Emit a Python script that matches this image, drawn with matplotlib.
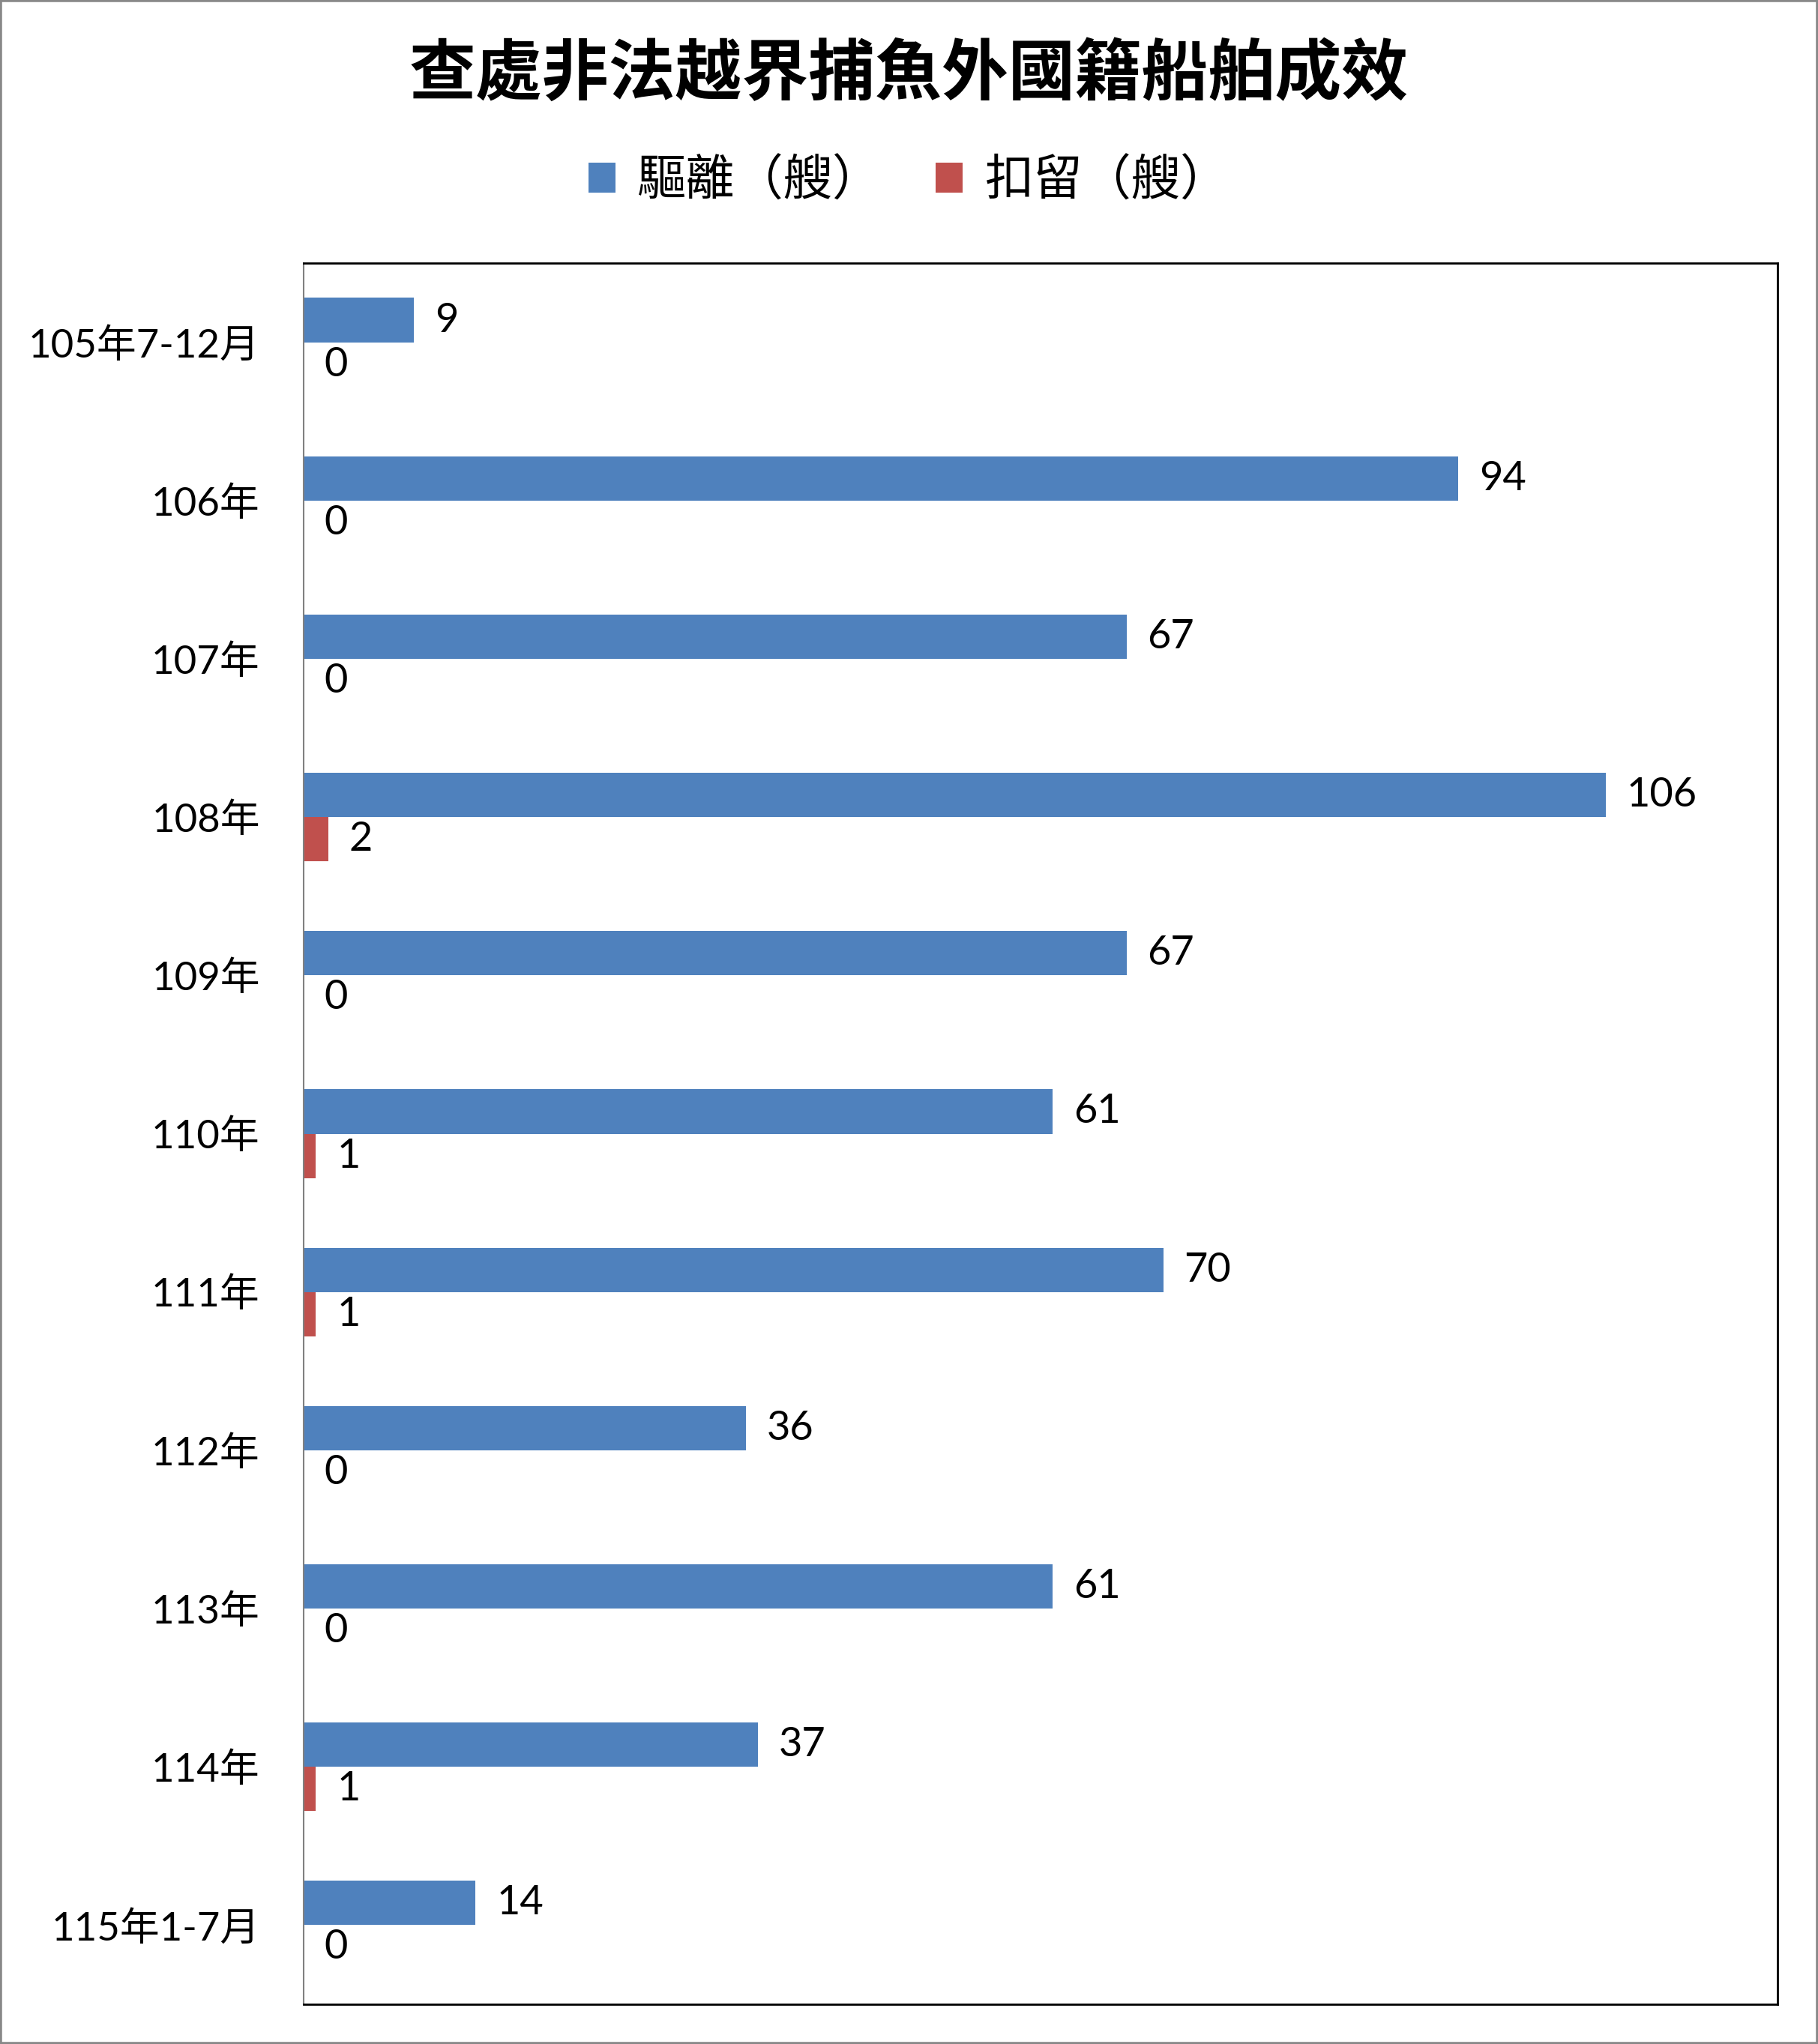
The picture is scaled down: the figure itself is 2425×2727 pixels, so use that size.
import numpy as np
import matplotlib.pyplot as plt
from matplotlib.patches import Rectangle

# data
periods = ['105年7-12月', '106年', '107年', '108年', '109年', '110年',
           '111年', '112年', '113年', '114年', '115年1-7月']
expelled = [9, 94, 67, 106, 67, 61, 70, 36, 61, 37, 14]
detained = [0, 0, 0, 2, 0, 1, 1, 0, 0, 1, 0]

blue = '#4F81BD'
red = '#C0504D'
fonts = ['Lato', 'Noto Sans CJK TC', 'DejaVu Sans']
plt.rcParams['font.family'] = fonts

fig = plt.figure(figsize=(24.25, 27.27), dpi=100)
ax = fig.add_axes([405 / 2425, 1 - 2674 / 2727, (2371 - 405) / 2425, (2674 - 351) / 2727])

y = np.arange(len(periods))
h = 0.28
b1 = ax.barh(y - h / 2, expelled, height=h, color=blue, label='驅離（艘）')
b2 = ax.barh(y + h / 2, detained, height=h, color=red, label='扣留（艘）')
ax.bar_label(b1, padding=20, fontsize=39)
ax.bar_label(b2, padding=20, fontsize=39)

ax.set_xlim(0, 120)
ax.set_ylim(len(periods) - 0.5, -0.5)
ax.set_xticks([])
ax.set_yticks(y)
ax.set_yticklabels(periods, fontsize=38)
ax.tick_params(axis='y', length=0, pad=42)
for s in ['top', 'bottom', 'right']:
    ax.spines[s].set_color('black')
    ax.spines[s].set_linewidth(2)
ax.spines['left'].set_color('#808080')
ax.spines['left'].set_linewidth(1.5)

fig.text(0.5, 1 - 100 / 2727, '查處非法越界捕魚外國籍船舶成效', ha='center', va='center',
         fontsize=64, fontweight='bold', family=['Noto Sans CJK TC'])

fig.legend(handles=[b1, b2], loc='center', bbox_to_anchor=(0.5, 1 - 242 / 2727),
           ncol=2, frameon=False, handlelength=0.55, handleheight=0.55,
           columnspacing=1.1, handletextpad=0.45, prop={'family': ['Noto Sans CJK TC'], 'size': 47})

fig.patches.append(Rectangle((0, 0), 1, 1, transform=fig.transFigure, fill=False,
                             edgecolor='#888888', linewidth=4))

plt.savefig('out.png')
